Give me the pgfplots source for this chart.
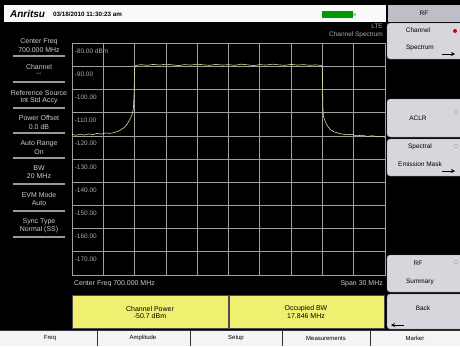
\documentclass[border=0pt]{standalone}
\usepackage{pgfplots}
\pgfplotsset{compat=1.18}
\usepackage{fontspec}
\setmainfont{Liberation Sans}
\definecolor{trace}{RGB}{222,222,150}
\definecolor{gridc}{RGB}{160,160,160}
\definecolor{lbl}{RGB}{205,205,205}
\definecolor{plbl}{RGB}{170,170,170}
\definecolor{btn}{RGB}{214,214,220}
\definecolor{hdr}{RGB}{190,190,198}
\definecolor{yel}{RGB}{240,240,112}
\definecolor{tabc}{RGB}{244,244,244}
\newcommand{\fs}[1]{\fontsize{#1}{#1}\selectfont}
\begin{document}
\begin{tikzpicture}[x=1bp,y=1bp]
\useasboundingbox (0,0) rectangle (460,346);
\fill[black] (0,0) rectangle (460,346);
\begin{scope}[shift={(0,346)},yscale=-1]
 % title bar
 \fill[white!95!gray] (4,5) rectangle (386,22);
 \node[anchor=west,font=\fs{10}\bfseries\itshape,inner sep=0] at (10,13.5) {Anritsu};
 \node[anchor=west,font=\fs{6.3}\bfseries,inner sep=0] at (53,14) {03/18/2010 11:30:23 am};
 \fill[green!60!black] (322,11) rectangle (353,18);
 \fill[gray!50] (353,13) rectangle (356,16);
 % RF header
 \fill[hdr] (388,5) rectangle (460,22);
 \node[font=\fs{6.5}] at (424,13.5) {RF};
 % buttons
 \filldraw[fill=btn,draw=gray,rounded corners=3] (387,23) rectangle (464,59);
 \node[font=\fs{6.5}] at (418,30) {Channel};
 \fill[red!85!black] (455,31) circle (2);
 \node[font=\fs{6.5}] at (420,48) {Spectrum};
 \draw[-stealth,line width=0.8] (442,54)--(455,54);
 \filldraw[fill=btn,draw=gray,rounded corners=3] (387,99) rectangle (464,137);
 \node[font=\fs{6.5}] at (418,118) {ACLR};
 \draw[gray,fill=white] (456,112) circle (1.8);
 \filldraw[fill=btn,draw=gray,rounded corners=3] (387,139) rectangle (464,176);
 \node[font=\fs{6.5}] at (420,146.5) {Spectral};
 \draw[gray,fill=white] (456,146) circle (1.8);
 \node[font=\fs{6.5}] at (420,164) {Emission Mask};
 \draw[-stealth,line width=0.8] (442,171)--(455,171);
 \filldraw[fill=btn,draw=gray,rounded corners=3] (387,255) rectangle (464,292);
 \node[font=\fs{6.5}] at (418,263) {RF};
 \draw[gray,fill=white] (456,262) circle (1.8);
 \node[font=\fs{6.5}] at (420,282) {Summary};
 \filldraw[fill=btn,draw=gray,rounded corners=3] (387,294) rectangle (464,329);
 \node[font=\fs{6.5}] at (423,308) {Back};
 \draw[-stealth,line width=0.8] (404,325)--(391,325);
 % yellow boxes
 \filldraw[fill=yel,draw=black!70] (72,295) rectangle (228,328);
 \filldraw[fill=yel,draw=black!70] (229,295) rectangle (384,328);
 \node[font=\fs{7},align=center] at (150,309) {Channel Power};
 \node[font=\fs{7}] at (150,316.5) {-50.7 dBm};
 \node[font=\fs{7}] at (306,309) {Occupied BW};
 \node[font=\fs{7}] at (306,316.5) {17.846 MHz};
 % bottom tabs
 \fill[tabc] (0,330) rectangle (460,346);
 \foreach \xx in {97,190,282,370} \draw[black!80,line width=1] (\xx,330)--(\xx,346);
 \draw[black!80] (0,330)--(460,330);
 \node[font=\fs{6}] at (50,338) {Freq};
 \node[font=\fs{6}] at (143,338) {Amplitude};
 \node[font=\fs{6}] at (236,338) {Setup};
 \node[font=\fs{6}] at (326,338) {Measurements};
 \node[font=\fs{6}] at (415,338) {Marker};
 % left panel
 \foreach \ya/\yb/\yu/\ta/\tb in {42/50/56/Center Freq/700.000 MHz, 67/74.5/82/Channel/-{}-, 93/101/108/Reference Source/Int Std Accy, 118.5/127/133/Power Offset/0.0 dB, 144/152/158/Auto Range/On, 168/176/184/BW/20 MHz, 195/203/211/EVM Mode/Auto, 222/230/237/Sync Type/Normal (SS)} {
   \node[font=\fs{7},text=lbl] at (39,\ya) {\ta};
   \node[font=\fs{7},text=lbl] at (39,\yb) {\tb};
   \draw[gray!80,line width=1.4] (13,\yu)--(65,\yu);
 }
 % plot annotations
 \node[anchor=east,font=\fs{6.5},text=plbl,inner sep=0] at (383,26.5) {LTE};
 \node[anchor=east,font=\fs{6.5},text=plbl,inner sep=0] at (383,35) {Channel Spectrum};
 \node[anchor=west,font=\fs{7},text=lbl,inner sep=0] at (74,283.5) {Center Freq 700.000 MHz};
 \node[anchor=east,font=\fs{7},text=lbl,inner sep=0] at (383,283.5) {Span 30 MHz};
\end{scope}
\begin{axis}[at={(72bp,71bp)},anchor=south west,scale only axis,
  width=313bp,height=231.7bp,
  xmin=-15,xmax=15,ymin=-180,ymax=-80,
  xtick={-15,-12,...,15},ytick={-180,-170,...,-80},
  xticklabels={},yticklabels={},major tick length=0pt,
  grid=major,grid style={gridc,line width=0.7pt},
  axis line style={gridc,line width=0.8pt},
  clip=true]
\addplot[trace,line width=0.6pt] coordinates {
(-15,-119.3) (-14.6,-119.7) (-14.2,-119.2) (-13.8,-119.6) (-13.4,-119.1) (-13,-119.4) (-12.6,-118.9) (-12.2,-119.2) (-11.8,-118.7) (-11.4,-118.9) (-11,-118.6) (-10.5,-117.8) (-10.0,-116.4) (-9.7,-114.8) (-9.45,-112.8) (-9.25,-110.8) (-9.12,-108.5) (-9.05,-102) (-9.0,-90.8)
(-8.9,-89.6) (-8.4,-89.2) (-7.8,-89.5) (-7.2,-89.1) (-6.6,-89.4) (-6.0,-89.0) (-5.4,-89.3) (-4.8,-89.6) (-4.2,-89.2) (-3.6,-89.4) (-3.0,-89.0) (-2.4,-89.3) (-1.8,-89.5) (-1.2,-89.1) (-0.6,-89.4) (0,-89.2) (0.6,-89.5) (1.2,-89.0) (1.8,-89.3) (2.4,-89.6) (3.0,-89.2) (3.6,-89.4) (4.2,-89.0) (4.8,-89.3) (5.4,-89.5) (6.0,-89.1) (6.6,-89.4) (7.2,-89.2) (7.8,-89.5) (8.4,-89.3) (8.9,-89.6)
(9.0,-90.8) (9.02,-100) (9.05,-108) (9.1,-111.5) (9.3,-114) (9.5,-115.8) (9.75,-117.2) (10.1,-118.2) (10.7,-119.0) (11.3,-119.5) (11.8,-119.3) (12.3,-119.9) (12.8,-119.7) (13.3,-120.2) (13.8,-119.9) (14.3,-120.4) (14.7,-120.1) (15,-120.6)
};
\node[anchor=west,font=\fs{6.5},text=plbl,inner sep=0] at (axis cs:-14.75,-83.3) {-80.00 dBm};
\foreach \v in {-90,-100,-110,-120,-130,-140,-150,-160,-170} {
  \edef\tmp{\noexpand\node[anchor=west,font=\noexpand\fs{6.5},text=plbl,inner sep=0] at (axis cs:-14.75,\v-3.3) {\v.00};}
  \tmp
}
\end{axis}
\end{tikzpicture}
\end{document}
